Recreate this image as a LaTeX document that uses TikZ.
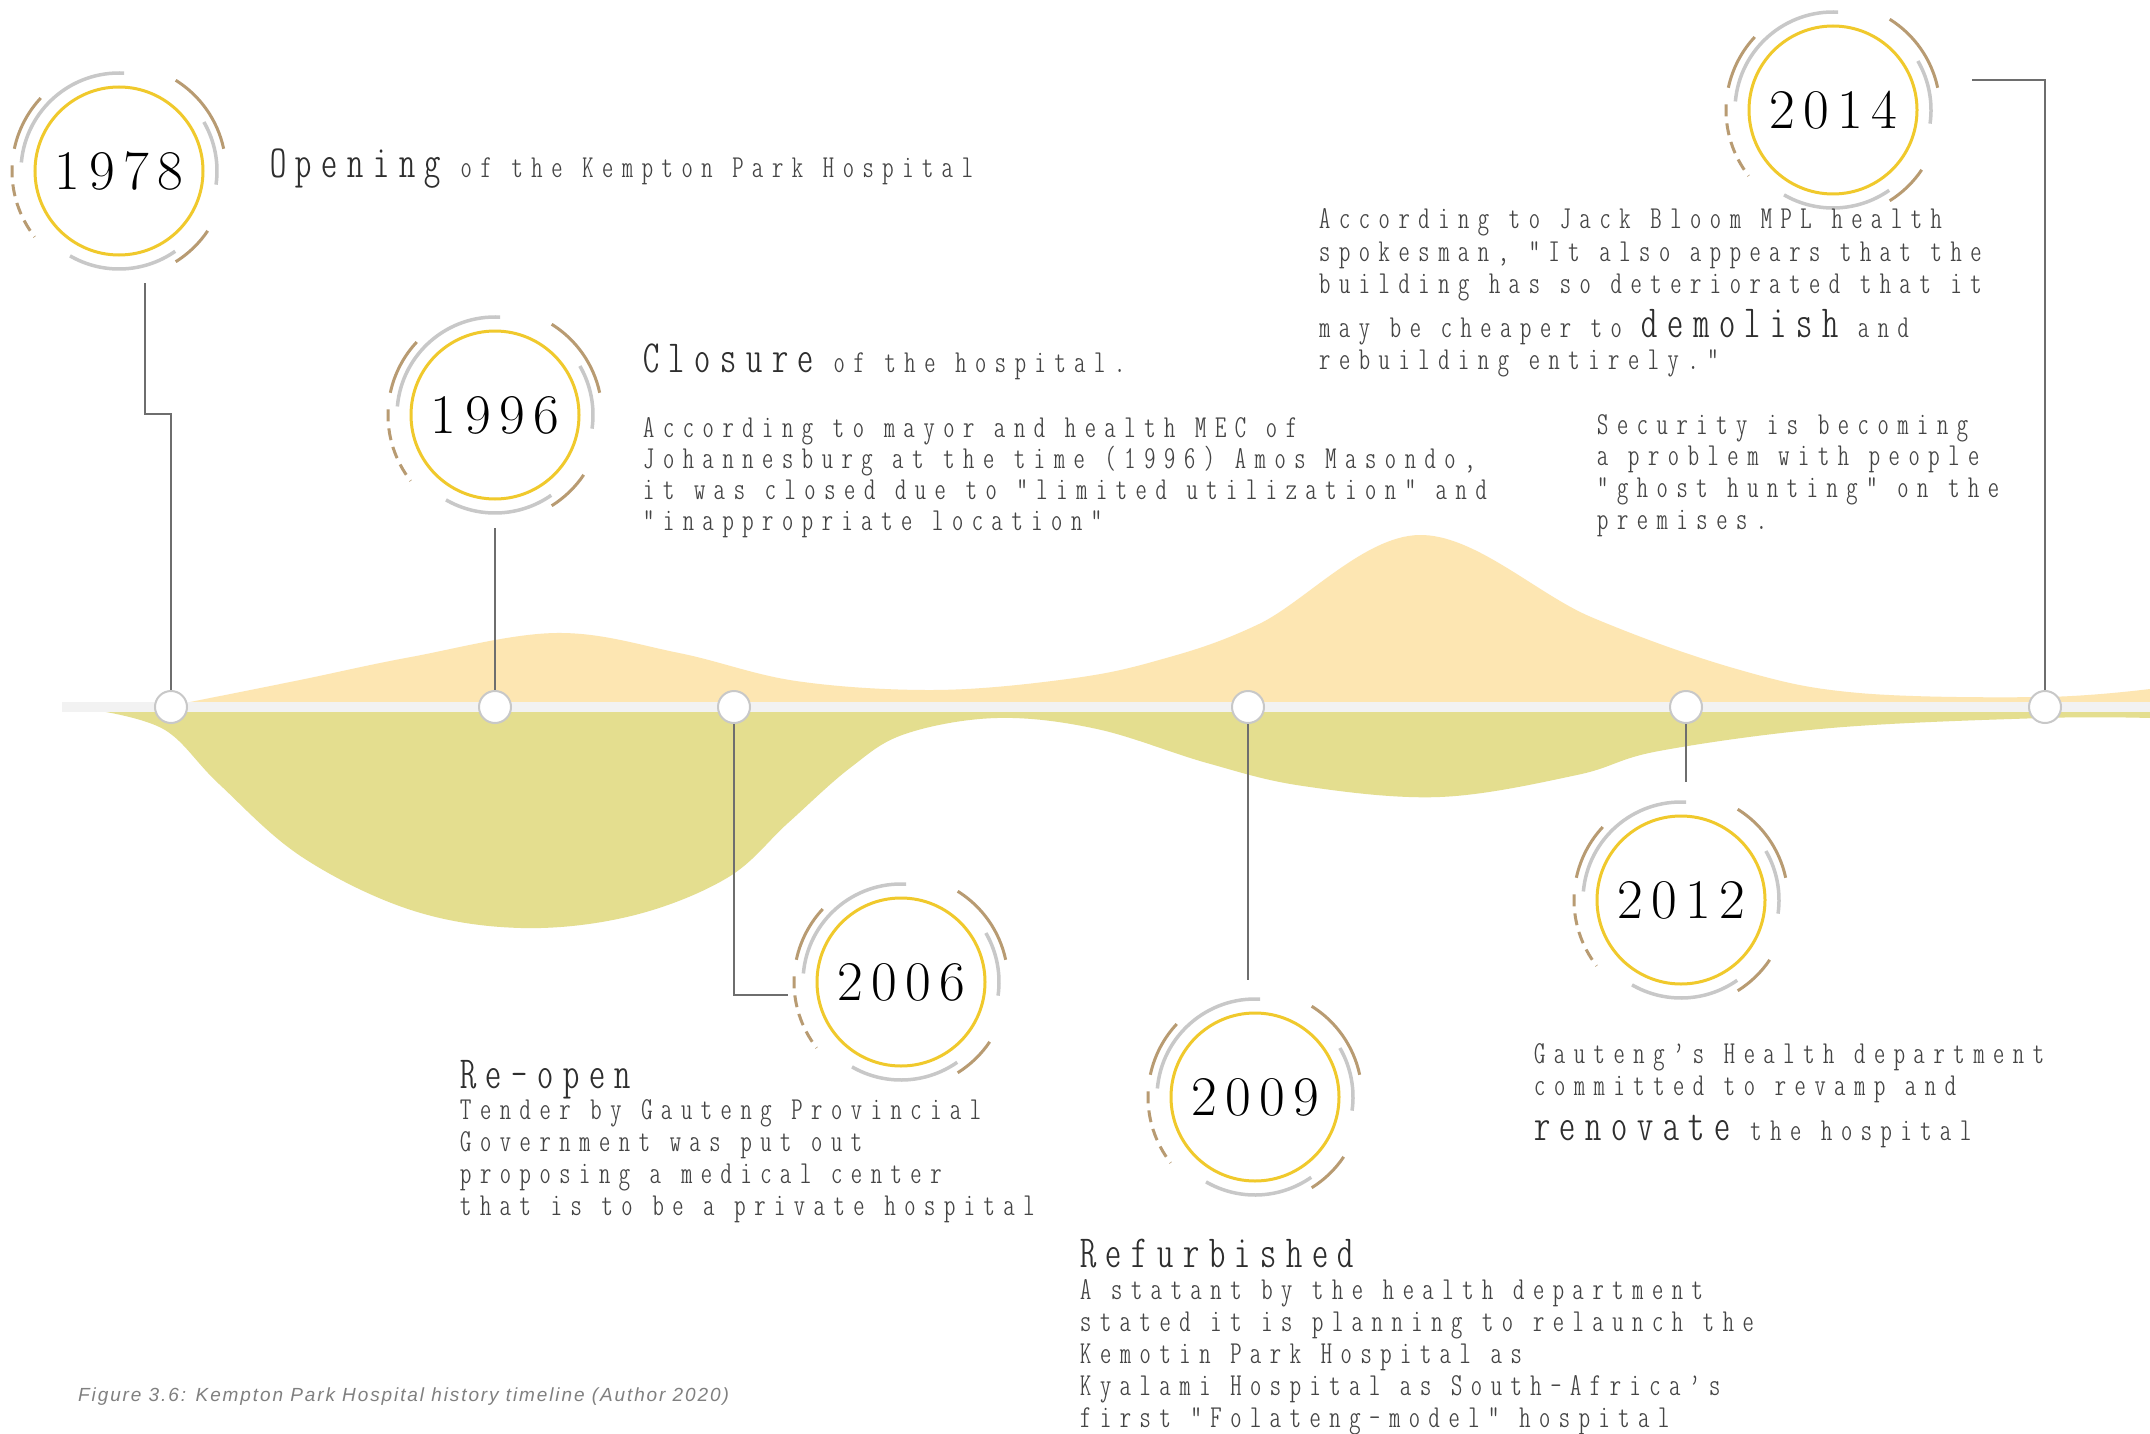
\documentclass[tikz,border=0pt]{standalone}
\usepackage{fontspec}
\newfontfamily\bodyf[LetterSpace=27]{lmmonoltcond10-regular.otf}
\newfontfamily\bigf[LetterSpace=21]{lmmonoltcond10-regular.otf}
\newfontfamily\yearf[LetterSpace=15]{lmroman17-regular.otf}
\newfontfamily\capf[LetterSpace=10]{Liberation Sans}
\definecolor{peach}{HTML}{FDE6B2}
\definecolor{olivey}{HTML}{E4DE8F}
\definecolor{bandc}{HTML}{F2F2F2}
\definecolor{ylw}{HTML}{F0C92C}
\definecolor{gryc}{HTML}{C8C8C8}
\definecolor{tanc}{HTML}{B89B72}
\definecolor{connc}{HTML}{6E6E6E}
\definecolor{bodyc}{HTML}{444444}
\definecolor{bigc}{HTML}{2E2E2E}
\definecolor{capc}{HTML}{808080}
\newcommand\bigw[1]{{\bigf\fontsize{46}{50}\selectfont\color{bigc}#1}}
\newcommand\paralines[2]{\vtop{\baselineskip=#1\lineskiplimit=-\maxdimen\lineskip=0pt #2}}
\newcommand\ringdeco[2]{%
  \begin{scope}[shift={(#1,#2)},yscale=-1]
    \draw[ylwring] (0,0) circle[radius=84];
    \draw[grayarc] (87:98) arc[start angle=87,end angle=175,radius=98];
    \draw[grayarc] (-8:98) arc[start angle=-8,end angle=30,radius=98];
    \draw[grayarc] (240:98) arc[start angle=240,end angle=305,radius=98];
    \draw[tanarc] (12:107) arc[start angle=12,end angle=58,radius=107];
    \draw[tanarc] (137:107) arc[start angle=137,end angle=168,radius=107];
    \draw[tanarc,dash pattern=on 12pt off 7pt] (177:107) arc[start angle=177,end angle=218,radius=107];
    \draw[tanarc] (302:107) arc[start angle=302,end angle=326,radius=107];
  \end{scope}}
\begin{document}
\begin{tikzpicture}[x=1pt,y=-1pt,
  ylwring/.style={draw=ylw,line width=3pt},
  grayarc/.style={draw=gryc,line width=3.5pt},
  tanarc/.style={draw=tanc,line width=3pt},
  conn/.style={draw=connc,line width=1.6pt},
  dot/.style={circle,draw=gryc,fill=white,line width=2pt,minimum size=32pt,inner sep=0},
  yearlbl/.style={inner sep=0,font=\yearf\fontsize{56}{60}\selectfont,text=black},
  bodytxt/.style={anchor=base west,inner sep=0,text=bodyc,font=\bodyf\fontsize{32}{32}\selectfont},
  captxt/.style={anchor=base west,inner sep=0,text=capc,font=\capf\itshape\fontsize{19}{22}\selectfont}]
\useasboundingbox (0,0) rectangle (2150,1434);
\fill[white] (0,0) rectangle (2150,1434);
% areas
\fill[peach] plot[smooth,tension=0.6] coordinates {(185,703) (300,680) (411,657) (556,633) (679,653) (796,681) (933,690) (1060,680) (1152,662) (1259,624) (1419,535) (1591,617) (1740,670) (1859,693) (2044,697) (2150,689)} -- (2150,704) -- cycle;
\fill[olivey] plot[smooth,tension=0.6] coordinates {(100,711) (165,730) (219,784) (302,857) (411,910) (521,928) (631,916) (727,878) (788,823) (850,768) (905,734) (997,718) (1097,729) (1207,763) (1303,786) (1440,797) (1577,775) (1659,751) (1831,728) (2043,718) (2150,718)} -- (2150,711) -- cycle;
\fill[bandc] (62,702) rectangle (2150,712);
% rings
\ringdeco{119}{171}
\ringdeco{495}{415}
\ringdeco{901}{982}
\ringdeco{1255}{1097}
\ringdeco{1681}{900}
\ringdeco{1833}{110}
\node[yearlbl] (y1978) at (119,171) {1978};
\node[yearlbl] (y1996) at (495,415) {1996};
\node[yearlbl] (y2006) at (901,982) {2006};
\node[yearlbl] (y2009) at (1255,1097) {2009};
\node[yearlbl] (y2012) at (1681,900) {2012};
\node[yearlbl] (y2014) at (1833,110) {2014};
% timeline dots
\node[dot] (n1978) at (171,707) {};
\node[dot] (n1996) at (495,707) {};
\node[dot] (n2006) at (734,707) {};
\node[dot] (n2009) at (1248,707) {};
\node[dot] (n2012) at (1686,707) {};
\node[dot] (n2014) at (2045,707) {};
% connector ends
\coordinate (s1978) at (145,283);
\coordinate (b1978) at (145,414);
\coordinate (s1996) at (495,528);
\coordinate (e2006) at (788,995);
\coordinate (e2009) at (1248,980);
\coordinate (e2012) at (1686,782);
\coordinate (e2014) at (1972,80);
\draw[conn] (s1978) -- (b1978) -| (n1978);
\draw[conn] (s1996) -- (n1996);
\draw[conn] (n2006) |- (e2006);
\draw[conn] (n2009) -- (e2009);
\draw[conn] (n2012) -- (e2012);
\draw[conn] (n2014) |- (e2014);
% texts
\node[bodytxt] (t1978) at (270,178) {\bigw{Opening} of the Kempton Park Hospital};
\node[bodytxt] (h1996) at (643,372) {\bigw{Closure} of the hospital.};
\node[bodytxt] (t1996) at (643,437) {\paralines{31.3pt}{%
  \hbox{According to mayor and health MEC of}
  \hbox{Johannesburg at the time (1996) Amos Masondo,}
  \hbox{it was closed due to “limited utilization” and}
  \hbox{“inappropriate location”}}};
\node[bodytxt] (t2014) at (1319,229) {\paralines{32.5pt}{%
  \hbox{According to Jack Bloom MPL health}
  \hbox{spokesman, “It also appears that the}
  \hbox{building has so deteriorated that it}
  \vskip11pt
  \hbox{may be cheaper to \bigw{demolish} and}
  \hbox{rebuilding entirely.”}}};
\node[bodytxt] (s2014) at (1597,434) {\paralines{31.8pt}{%
  \hbox{Security is becoming}
  \hbox{a problem with people}
  \hbox{“ghost hunting” on the}
  \hbox{premises.}}};
\node[bodytxt] (t2006) at (460,1088) {\paralines{31.8pt}{%
  \hbox{\bigw{Re-open}}
  \hbox{Tender by Gauteng Provincial}
  \hbox{Government was put out}
  \hbox{proposing a medical center}
  \hbox{that is to be a private hospital}}};
\node[bodytxt] (t2009) at (1080,1267) {\paralines{32pt}{%
  \hbox{\bigw{Refurbished}}
  \hbox{A statant by the health department}
  \hbox{stated it is planning to relaunch the}
  \hbox{Kemotin Park Hospital as}
  \hbox{Kyalami Hospital as South-Africa’s}
  \hbox{first “Folateng-model” hospital}}};
\node[bodytxt] (t2012) at (1534,1063) {\paralines{32pt}{%
  \hbox{Gauteng’s Health department}
  \hbox{committed to revamp and}
  \vskip13pt
  \hbox{\bigw{renovate} the hospital}}};
\node[captxt] (cap) at (78,1401) {Figure 3.6: Kempton Park Hospital history timeline (Author 2020)};
\end{tikzpicture}
\end{document}
